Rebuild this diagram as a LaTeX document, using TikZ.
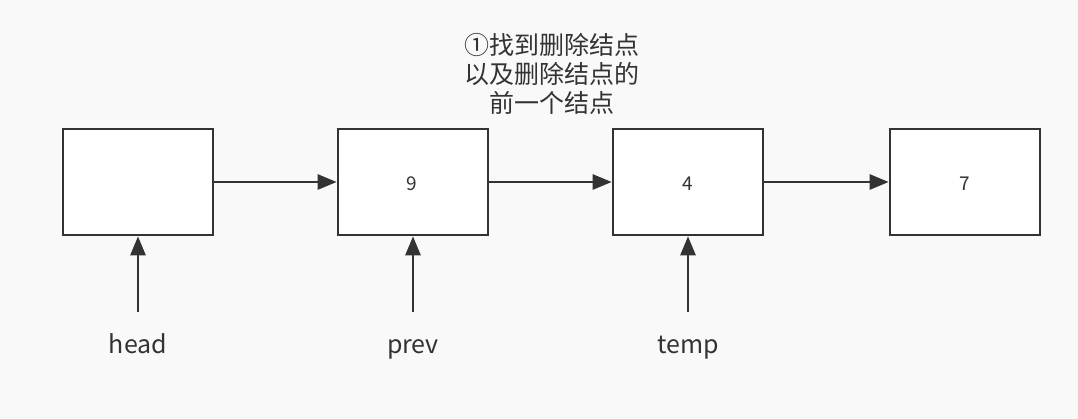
\documentclass[tikz,border=0pt]{standalone}
\usepackage{fontspec}
\setmainfont{Noto Sans CJK SC}
\usetikzlibrary{arrows.meta}
\definecolor{ink}{HTML}{333333}
\definecolor{bg}{HTML}{F9F9F9}
\tikzset{
  cell/.style={draw=ink, line width=2.6pt, fill=white, minimum width=150pt, minimum height=106pt, inner sep=0pt},
  num/.style={font=\fontsize{19pt}{22pt}\selectfont, text=ink, inner sep=0pt},
  link/.style={draw=ink, line width=2.6pt, -{Triangle[length=19pt,width=15pt]}},
  lbl/.style={font=\fontsize{25pt}{30pt}\selectfont, text=ink, inner sep=0pt}
}
\begin{document}
\begin{tikzpicture}[x=1pt,y=-1pt]
\fill[bg] (0,0) rectangle (1078,419);
\useasboundingbox (0,0) rectangle (1078,419);
\node[cell] (n1) at (138,182) {};
\node[cell] (n2) at (413,182) {};
\node[cell] (n3) at (688,182) {};
\node[cell] (n4) at (965,182) {};
\node[num] (v2) at (412,184) {9};
\node[num] (v3) at (688,184) {4};
\node[num] (v4) at (965,184) {7};
\draw[link] (n1.east) -- (n2.west);
\draw[link] (n2.east) -- (n3.west);
\draw[link] (n3.east) -- (n4.west);
\node[lbl, anchor=base] (h) at (138,353) {head};
\node[lbl, anchor=base] (p) at (413,353) {prev};
\node[lbl, anchor=base] (t) at (688,353) {temp};
\coordinate (h0) at (138,312);
\coordinate (p0) at (413,312);
\coordinate (t0) at (688,312);
\draw[link] (h0) -- (n1.south);
\draw[link] (p0) -- (n2.south);
\draw[link] (t0) -- (n3.south);
\node[lbl, align=center, font=\fontsize{25pt}{29pt}\selectfont] (note) at (552,74) {①找到删除结点\\以及删除结点的\\前一个结点};
\end{tikzpicture}
\end{document}
